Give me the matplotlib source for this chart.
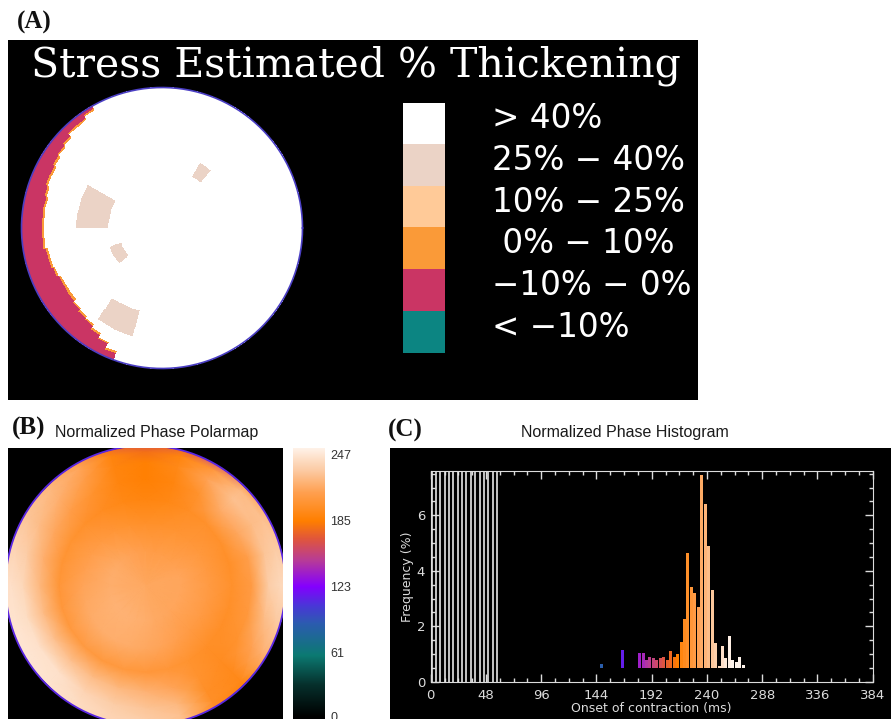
import numpy as np
import matplotlib
matplotlib.use("Agg")  # no display
import matplotlib.pyplot as plt
from matplotlib.colors import ListedColormap, LinearSegmentedColormap, Normalize
from matplotlib.patches import Rectangle, Circle
from matplotlib.transforms import blended_transform_factory
from matplotlib.ticker import MultipleLocator

W, H = 891, 719

# ---- (A) stress estimated thickening, legend order top -> bottom
class_labels = ["> 40%", "25% \u2212 40%", "10% \u2212 25%", " 0% \u2212 10%",
                "\u221210% \u2212 0%", "< \u221210%"]
class_colors = ["#ffffff", "#ebd3c6", "#ffca98", "#fa9a38", "#ca3564", "#0c8582"]

# septal crescent (-10%..0%): depth as fraction of radius, 5 deg sectors from 120 deg
crescent_start = 120
crescent_depth = [0.02, 0.04, 0.05, 0.07, 0.08, 0.10, 0.11, 0.12, 0.13, 0.14, 0.14, 0.15, 0.15,
                  0.15, 0.16, 0.16, 0.17, 0.18, 0.18, 0.18, 0.17, 0.16, 0.14, 0.12, 0.08, 0.04]
# 25%..40% islands (radius range, angle range in deg)
island_r0 = [0.38, 0.32, 0.43, 0.62]
island_r1 = [0.62, 0.40, 0.54, 0.80]
island_t0 = [152, 198, 50, 236]
island_t1 = [182, 218, 60, 257]

# ---- (B) normalized phase polar map, rows = radius nodes, cols = 0..345 deg (15 deg)
phase_r = [0.0, 0.25, 0.45, 0.62, 0.76, 0.88, 0.96, 1.04]
phase_map = [
    [216] * 24,
    [215, 215, 213, 211, 210, 209, 210, 212, 214, 216, 218, 219, 219, 220, 221, 221, 221, 220, 219, 217, 216, 215, 215, 215],
    [208, 207, 206, 204, 202, 200, 199, 201, 204, 207, 210, 212, 214, 216, 218, 219, 219, 218, 216, 214, 211, 208, 208, 208],
    [200, 199, 200, 200, 197, 192, 190, 192, 196, 200, 202, 203, 204, 205, 206, 207, 206, 206, 205, 204, 201, 198, 198, 199],
    [208, 210, 216, 218, 201, 190, 186, 190, 201, 210, 216, 220, 224, 226, 228, 228, 226, 224, 221, 214, 201, 196, 201, 206],
    [234, 230, 226, 228, 213, 193, 186, 190, 210, 220, 226, 234, 240, 243, 245, 245, 238, 234, 230, 224, 198, 194, 213, 226],
    [240, 234, 228, 225, 205, 190, 178, 190, 215, 224, 230, 238, 244, 246, 247, 246, 242, 238, 234, 228, 198, 193, 220, 232],
    [242, 232, 222, 200, 150, 170, 158, 172, 205, 222, 230, 238, 244, 246, 247, 246, 242, 238, 234, 226, 195, 185, 222, 235],
]
cbar_ticks = [0, 61, 123, 185, 247]

# ---- (C) normalized phase histogram
hist_ms = [148.5, 166.5, 181.5, 184.5, 187.5, 190.5, 193.5, 196.5, 199.5, 202.5,
           205.5, 208.5, 211.5, 214.5, 217.5, 220.5, 223.5, 226.5, 229.5, 232.5,
           235.5, 238.5, 241.5, 244.5, 247.5, 250.5, 253.5, 256.5, 259.5, 262.5,
           265.5, 268.5, 271.5]
hist_pct = [0.65, 1.15, 1.05, 1.05, 0.8, 0.9, 0.85, 0.8, 0.85, 0.9,
            0.8, 1.1, 0.9, 1.0, 1.45, 2.25, 4.65, 3.4, 3.2, 2.7,
            7.45, 6.4, 4.9, 3.3, 1.4, 0.55, 1.3, 0.85, 1.65, 0.8,
            0.7, 0.9, 0.6]
artifact_ms = [0.8, 4.6, 8.4, 12.2, 15.9, 19.7, 23.5, 27.3, 31.1, 34.8,
               38.6, 42.4, 46.2, 50.0, 53.7, 57.5]
x_ticks = [0, 48, 96, 144, 192, 240, 288, 336, 384]
y_ticks = [0, 2, 4, 6]

phase_cmap = LinearSegmentedColormap.from_list("phase", [
    (0 / 255, "#000000"), (30 / 255, "#06302c"), (58 / 255, "#0c7a72"),
    (88 / 255, "#2c5cb0"), (105 / 255, "#4a36d8"), (123 / 255, "#8400ff"),
    (148 / 255, "#b83c96"), (168 / 255, "#e0563c"), (185 / 255, "#ff7f00"),
    (212 / 255, "#ffa050"), (232 / 255, "#fcc9a0"), (1.0, "#fff4ec")])


def box(l, t, r, b):
    return [l / W, 1 - b / H, (r - l) / W, (b - t) / H]


def bare(ax):
    ax.set_xticks([]); ax.set_yticks([])
    for s in ax.spines.values():
        s.set_visible(False)


def polar_mesh(t_deg, r):
    T, R = np.meshgrid(np.deg2rad(t_deg), r)
    return R * np.cos(T), R * np.sin(T)


def main():
    fig = plt.figure(figsize=(W / 100, H / 100), dpi=100)
    fig.patch.set_facecolor("white")
    serif = dict(family="Liberation Serif", weight="bold", size=18, color="#111111")

    # ---------------- (A)
    fig.text(34 / W, 1 - 22 / H, "(A)", ha="center", va="center", **serif)
    axA = fig.add_axes(box(8, 40, 698, 400))
    axA.set_facecolor("black"); bare(axA)
    rr = 140.5
    axA.set_xlim(-154 / rr, 536 / rr)
    axA.set_ylim(-172 / rr, 188 / rr)

    n_r = 70
    r_edges = np.linspace(0, 1, n_r + 1)
    r_mid = 0.5 * (r_edges[1:] + r_edges[:-1])
    t_edges = np.arange(0, 361, 5)
    t_mid = t_edges[:-1] + 2.5
    cls = np.zeros((n_r, len(t_mid)))
    for k, d in enumerate(crescent_depth):
        j = crescent_start // 5 + k
        inside = r_mid > 1 - d
        cls[inside, j] = 4
        cls[np.argmax(inside) - 1, j] = 3
    for a, b, c, d in zip(island_r0, island_r1, island_t0, island_t1):
        cls[np.ix_((r_mid >= a) & (r_mid <= b), (t_mid >= c) & (t_mid <= d))] = 1
    X, Y = polar_mesh(t_edges, r_edges)
    axA.pcolormesh(X, Y, cls, cmap=ListedColormap(class_colors), vmin=-0.5, vmax=5.5,
                   shading="flat", antialiased=False, linewidth=0)
    tt = np.linspace(0, 2 * np.pi, 400)
    axA.plot(np.cos(tt), np.sin(tt), color="#4b3fc4", lw=1.2)

    fig.text(31 / W, 1 - 77 / H, "Stress Estimated % Thickening", family="DejaVu Serif",
             size=29.5, color="white", va="baseline", ha="left")

    lax = fig.add_axes(box(403, 102.7, 445, 353.3))
    lax.imshow(np.arange(len(class_colors))[:, None], cmap=ListedColormap(class_colors),
               vmin=-0.5, vmax=len(class_colors) - 0.5, aspect="auto")
    bare(lax)
    tr = blended_transform_factory(lax.transAxes, lax.transData)
    for i, lab in enumerate(class_labels):
        lax.text(2.12, i - 0.12, lab, transform=tr, ha="left", va="center",
                 family="DejaVu Sans", size=23.5, color="white")

    # ---------------- (B)
    fig.text(28.5 / W, 1 - 428 / H, "(B)", ha="center", va="center", **serif)
    fig.text(55 / W, 1 - 432 / H, "Normalized Phase Polarmap", ha="left", va="center",
             family="Liberation Sans", size=11.5, color="#1a1a1a")
    axB = fig.add_axes(box(8, 448, 283, 723))
    axB.set_facecolor("black"); bare(axB)
    lim = 137.5 / 140
    axB.set_xlim(-lim, lim); axB.set_ylim(-lim, lim)
    vals = np.array(phase_map, dtype=float)
    vals = np.hstack([vals, vals[:, :1]])
    XB, YB = polar_mesh(np.arange(0, 361, 15), np.array(phase_r))
    mesh = axB.pcolormesh(XB, YB, vals, cmap=phase_cmap, vmin=0, vmax=255, shading="gouraud")
    mesh.set_clip_path(Circle((0, 0), 1.0, transform=axB.transData))
    axB.plot(np.cos(tt), np.sin(tt), color=phase_cmap(110 / 255), lw=1.3)

    cax = fig.add_axes(box(293, 448, 325, 723))
    cax.set_facecolor("black")
    cax.imshow(np.linspace(0, 255, 256)[:, None], extent=[0, 1, 0, 255], origin="lower",
               aspect="auto", cmap=phase_cmap, vmin=0, vmax=255)
    cax.set_ylim(-6, 253.6)
    cax.set_xticks([])
    cax.set_yticks(cbar_ticks)
    cax.yaxis.tick_right()
    cax.tick_params(length=0, pad=4, labelsize=9, labelcolor="#333333")
    for lbl in cax.get_yticklabels():
        lbl.set_family("Liberation Sans")
    for s in cax.spines.values():
        s.set_visible(False)

    # ---------------- (C)
    fig.text(405.5 / W, 1 - 430 / H, "(C)", ha="center", va="center", **serif)
    fig.text(625 / W, 1 - 432 / H, "Normalized Phase Histogram", ha="center", va="center",
             family="Liberation Sans", size=11.5, color="#1a1a1a")
    fig.add_artist(Rectangle((390 / W, 0), 1 - 390 / W, (719 - 448) / H,
                             transform=fig.transFigure, facecolor="black", edgecolor="none",
                             zorder=0))
    axC = fig.add_axes(box(430.7, 471, 872.7, 681.7))
    axC.set_facecolor("black")
    fg = "#dcdcdc"
    base = 0.5
    hnorm = Normalize(91, 261)
    ms = np.array(hist_ms)
    pct = np.array(hist_pct)
    axC.bar(ms, pct - base, bottom=base, width=2.6,
            color=phase_cmap(hnorm(ms)), edgecolor="none")
    for x in artifact_ms:
        axC.axvline(x, color="#e6e6e6", lw=1.2)
    axC.set_xlim(0, 384)
    axC.set_ylim(0, 7.6)
    axC.set_xticks(x_ticks)
    axC.set_yticks(y_ticks)
    axC.xaxis.set_minor_locator(MultipleLocator(12))
    axC.yaxis.set_minor_locator(MultipleLocator(0.5))
    axC.tick_params(which="both", direction="in", top=True, right=True, color=fg, width=1)
    axC.tick_params(which="major", length=6)
    axC.tick_params(which="minor", length=3)
    axC.tick_params(axis="x", labelsize=9.5, labelcolor=fg, pad=5)
    axC.tick_params(axis="y", labelsize=9.5, labelcolor=fg, pad=4)
    for s in axC.spines.values():
        s.set_color(fg)
    axC.set_xlabel("Onset of contraction (ms)", color=fg, fontsize=9, labelpad=0)
    axC.set_ylabel("Frequency (%)", color=fg, fontsize=9, labelpad=2)

    fig.savefig("out.png", dpi=100, facecolor="white")


if __name__ == "__main__":
    main()
